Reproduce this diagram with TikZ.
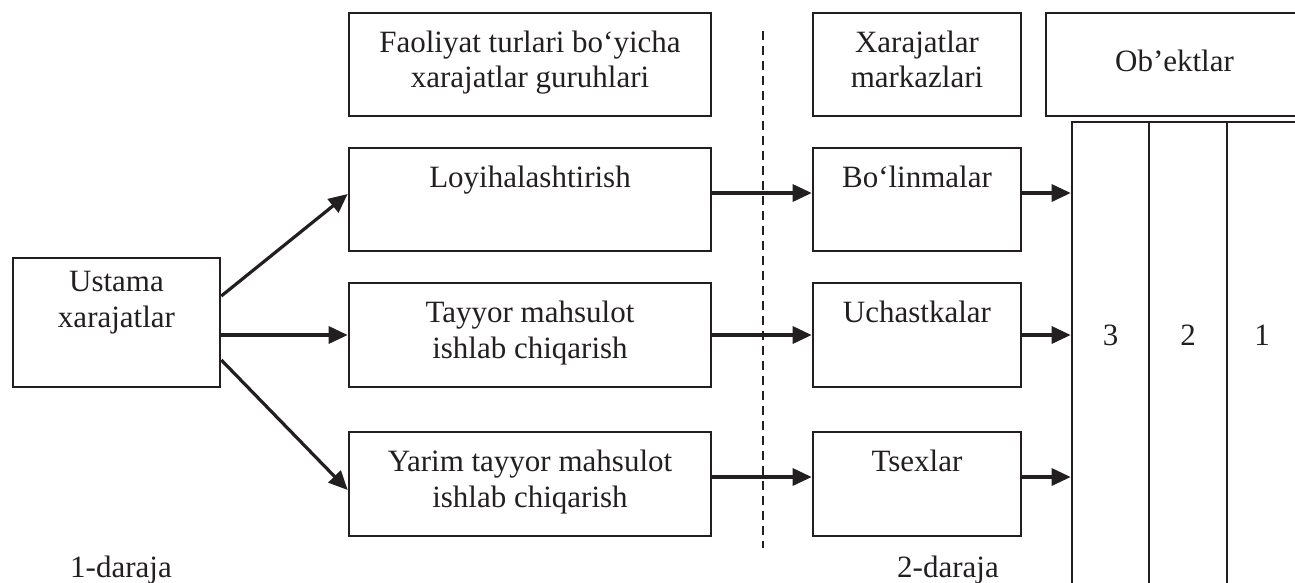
\documentclass[tikz,border=0pt]{standalone}
\usepackage{fontspec}
\setmainfont{Liberation Serif}
\usetikzlibrary{arrows.meta}
\definecolor{ink}{HTML}{231F20}
\begin{document}
\begin{tikzpicture}[x=1pt,y=-1pt,
  txt/.style={text=ink, font=\fontsize{31}{35.5}\selectfont},
  box/.style={txt, draw=ink, line width=2.6pt, rectangle, inner sep=0pt,
    align=center, execute at begin node=\strut, execute at end node=\strut},
  cell/.style={draw=ink, line width=2.6pt, rectangle, inner sep=0pt,
    minimum width=#1, minimum height=478pt},
  arr/.style={draw=ink, line width=3.2pt, -{Triangle[length=19pt,width=17pt]}},
  divider/.style={draw=ink, line width=2.2pt, dash pattern=on 9pt off 6pt},
]
\useasboundingbox (0,0) rectangle (1295,582);
\clip (0,0) rectangle (1295,582);

% column headers
\node[box, minimum width=362pt, minimum height=103pt] (fao) at (530,64.5)
  {Faoliyat turlari bo‘yicha\\xarajatlar guruhlari};
\node[box, minimum width=208pt, minimum height=103pt] (xm) at (917,64.5)
  {Xarajatlar\\markazlari};
\node[box, minimum width=257pt, minimum height=103pt] (obj) at (1174.5,64.5)
  {Ob’ektlar};

% source of overhead costs
\node[box, minimum width=207pt, minimum height=129pt] (ust) at (116.5,322.5)
  {Ustama\\xarajatlar\\};

% activity groups
\node[box, minimum width=362pt, minimum height=103pt] (loy) at (530,199.5)
  {Loyihalashtirish\\};
\node[box, minimum width=362pt, minimum height=104pt] (tay) at (530,335)
  {Tayyor mahsulot\\ishlab chiqarish};
\node[box, minimum width=362pt, minimum height=104pt] (yar) at (530,484)
  {Yarim tayyor mahsulot\\ishlab chiqarish};

% cost centres
\node[box, minimum width=208pt, minimum height=103pt] (bol) at (917,199.5)
  {Bo‘linmalar\\};
\node[box, minimum width=208pt, minimum height=104pt] (uch) at (917,335)
  {Uchastkalar\\};
\node[box, minimum width=208pt, minimum height=104pt] (tse) at (917,484)
  {Tsexlar\\};

% object columns
\node[cell=77pt] (c3) at (1110.5,361) {};
\node[cell=78pt] (c2) at (1188,361) {};
\node[cell=77pt] (c1) at (1265.5,361) {};
\node[txt, inner sep=0pt] (n3) at (1110.5,335) {3};
\node[txt, inner sep=0pt] (n2) at (1188,335) {2};
\node[txt, inner sep=0pt] (n1) at (1262,335) {1};

% level divider
\coordinate (dtop) at (763,31);
\coordinate (dbot) at (763,548);
\draw[divider] (dtop) -- (dbot);

% level captions
\node[txt, inner sep=0pt, anchor=base] (lv1) at (121,577) {1-daraja};
\node[txt, inner sep=0pt, anchor=base] (lv2) at (948,577) {2-daraja};

% distribution arrows
\draw[arr] ([yshift=26.5pt]ust.east) -- ([yshift=5.5pt]loy.west);
\draw[arr] (tay.west -| ust.east) -- (tay.west);
\draw[arr] ([yshift=-37.5pt]ust.east) -- ([yshift=-6pt]yar.west);

\draw[arr] ([yshift=6.5pt]loy.east) -- ([yshift=6.5pt]bol.west);
\draw[arr] (tay.east) -- (uch.west);
\draw[arr] ([yshift=7pt]yar.east) -- ([yshift=7pt]tse.west);

\draw[arr] ([yshift=6.5pt]bol.east) -- ([yshift=6.5pt]bol.east -| c3.west);
\draw[arr] (uch.east) -- (uch.east -| c3.west);
\draw[arr] ([yshift=7pt]tse.east) -- ([yshift=7pt]tse.east -| c3.west);
\end{tikzpicture}
\end{document}
